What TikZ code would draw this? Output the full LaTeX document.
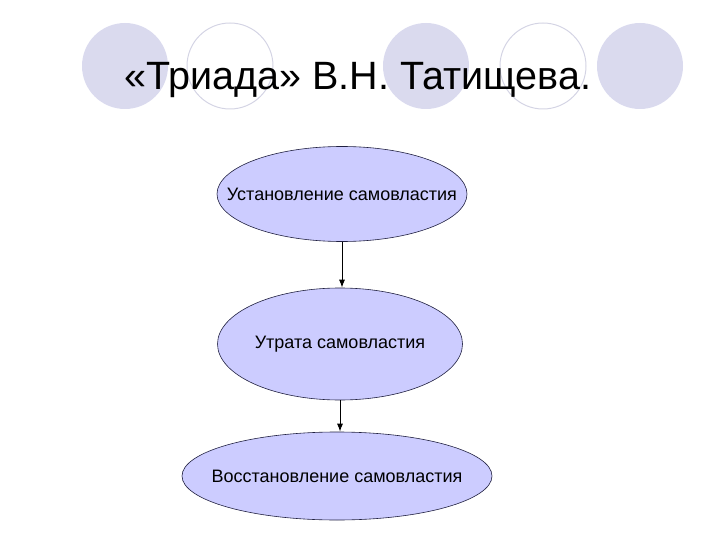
\documentclass[tikz,border=0pt]{standalone}
\usepackage{fontspec}
\setmainfont{Liberation Sans}
\usetikzlibrary{arrows.meta,positioning,shapes.geometric}
\definecolor{cDisc}{HTML}{DADAEE}
\definecolor{cRing}{HTML}{D4D4E4}
\definecolor{cOval}{HTML}{CCCCFF}
\definecolor{cEdge}{HTML}{202040}
\tikzset{
  disc/.style={fill=cDisc},
  ring/.style={draw=cRing,line width=1pt},
  stage/.style={ellipse,draw=cEdge,fill=cOval,line width=0.6pt,inner sep=0pt},
  stagetext/.style={font=\fontsize{18}{21}\selectfont,inner sep=0pt},
  flow/.style={-{Latex[length=8pt,width=6pt]},line width=1pt}
}

\begin{document}
\begin{tikzpicture}[x=1pt,y=-1pt]
  \useasboundingbox (0,0) rectangle (720,540);
  % decorative circles
  \foreach \x in {125,426,640} \fill[disc] (\x,66) circle (43);
  \foreach \x in {230,543} \draw[ring] (\x,66) circle (43);
  \node[anchor=base,font=\fontsize{39.5}{48}\selectfont] (title) at (358,90) {«Триада» В.Н. Татищева.};
  % three stages
  \node[stage,minimum width=250pt,minimum height=95pt,label={[stagetext]center:Установление самовластия}] (rise) at (342,194) {};
  \node[stage,minimum width=245pt,minimum height=112pt,label={[stagetext]center:Утрата самовластия}] (loss) at (340,344) {};
  \node[stage,minimum width=310pt,minimum height=88pt,label={[stagetext]center:Восстановление самовластия}] (back) at (337,476) {};
  \draw[flow] (rise.south) -- (rise.south |- loss.north);
  \draw[flow] (loss.south) -- (loss.south |- back.north);
\end{tikzpicture}
\end{document}
